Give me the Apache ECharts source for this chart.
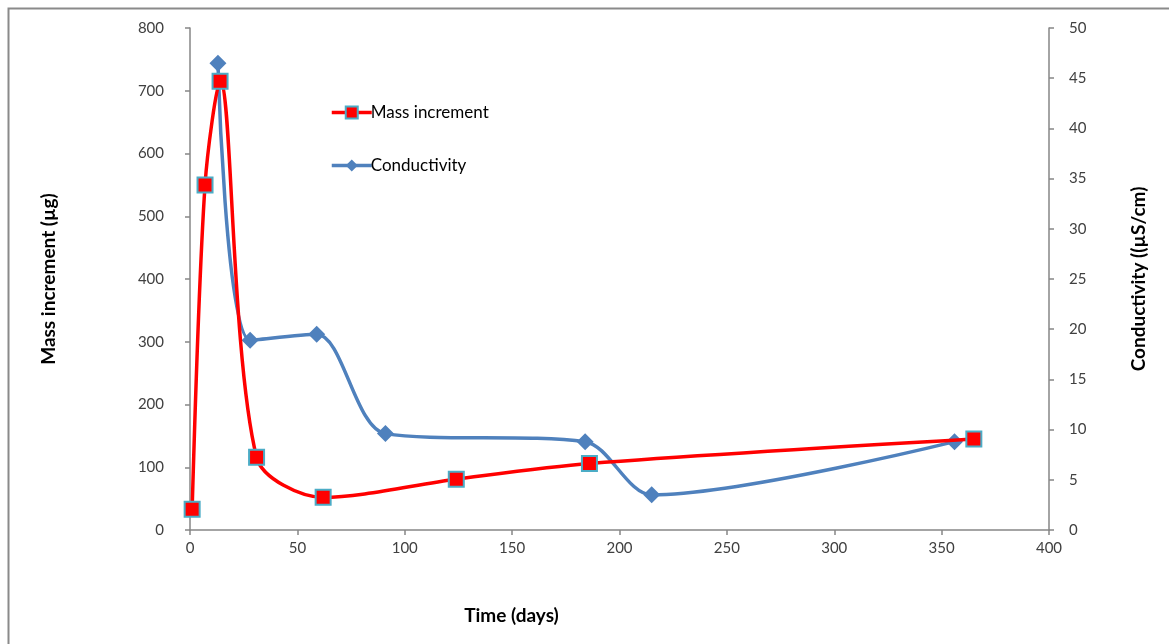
<!DOCTYPE html>
<html>
<head>
<meta charset="utf-8">
<script src="https://cdn.jsdelivr.net/npm/echarts@6/dist/echarts.min.js"></script>
<style>html,body{margin:0;padding:0;background:#fff}#c{width:1169px;height:644px}</style>
</head>
<body>
<div id="c"></div>
<script>
const massDays = [1, 7, 14, 31, 62, 124, 186, 365];
const massValues = [33, 550, 715, 116, 52, 81, 106, 145];
const condDays = [13, 28, 59, 91, 184, 215, 356];
const condValues = [46.5, 18.9, 19.5, 9.6, 8.8, 3.5, 8.8];
const seriesNames = ['Mass increment', 'Conductivity'];
const xTitle = 'Time (days)';
const yLeftTitle = 'Mass increment (µg)';
const yRightTitle = 'Conductivity ((µS/cm)';

const font = 'Lato, "Open Sans", sans-serif';
const axisLine = {show: true, lineStyle: {color: '#868686', width: 1.5}};
const axisTick = {show: true, length: 5, lineStyle: {color: '#868686', width: 1.5}};
const axisLabel = {color: '#404040', fontSize: 15, fontFamily: font};
const titleStyle = {fontSize: 19, fontWeight: 'bold', color: '#000', fontFamily: font};

const chart = echarts.init(document.getElementById('c'));
chart.setOption({
  animation: false,
  backgroundColor: '#fff',
  graphic: [{
    type: 'rect', left: 6, top: 6,
    shape: {width: 1200, height: 700},
    style: {fill: 'none', stroke: '#8a8a8a', lineWidth: 2}
  }],
  grid: {left: 190, right: 120, top: 28, bottom: 114},
  legend: {
    orient: 'vertical', left: 325, top: 99, itemGap: 36,
    itemWidth: 40, itemHeight: 15,
    lineStyle: {width: 3.5},
    textStyle: {color: '#000', fontSize: 17, fontFamily: font, padding: [0, 0, 0, -6]},
    data: seriesNames
  },
  xAxis: {
    type: 'value', min: 0, max: 400, interval: 50,
    axisLine, axisTick, axisLabel: Object.assign({margin: 11}, axisLabel),
    splitLine: {show: false},
    name: xTitle, nameLocation: 'middle', nameGap: 76,
    nameTextStyle: Object.assign({padding: [0, 216, 0, 0]}, titleStyle)
  },
  yAxis: [{
    type: 'value', min: 0, max: 800, interval: 100,
    axisLine, axisTick, axisLabel: Object.assign({margin: 26}, axisLabel),
    splitLine: {show: false},
    name: yLeftTitle, nameLocation: 'middle', nameGap: 132, nameRotate: 90,
    nameTextStyle: titleStyle
  }, {
    type: 'value', min: 0, max: 50, interval: 5, position: 'right',
    axisLine, axisTick, axisLabel: Object.assign({margin: 20}, axisLabel),
    splitLine: {show: false},
    name: yRightTitle, nameLocation: 'middle', nameGap: 80, nameRotate: 90,
    nameTextStyle: titleStyle
  }],
  series: [{
    name: seriesNames[0], type: 'line', yAxisIndex: 0,
    data: massDays.map((d, i) => [d, massValues[i]]),
    smooth: 0.3,
    symbol: 'rect', symbolSize: 15,
    lineStyle: {color: '#ff0000', width: 3.5},
    itemStyle: {color: '#ff0000', borderColor: '#4bacc6', borderWidth: 2},
    z: 3
  }, {
    name: seriesNames[1], type: 'line', yAxisIndex: 1,
    data: condDays.map((d, i) => [d, condValues[i]]),
    smooth: 0.3,
    symbol: 'diamond', symbolSize: 17,
    lineStyle: {color: '#4f81bd', width: 3.5},
    itemStyle: {color: '#4f81bd', borderWidth: 0},
    z: 2
  }]
});
</script>
</body>
</html>
